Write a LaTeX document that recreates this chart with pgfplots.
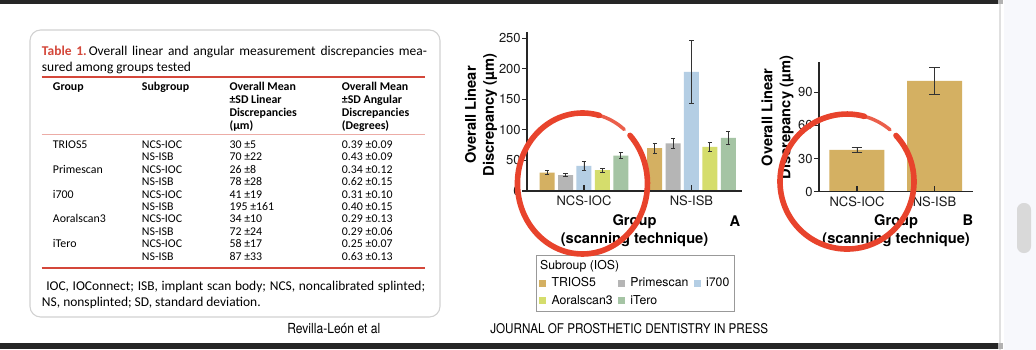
\documentclass[border=0pt]{standalone}
\usepackage{pgfplots}
\pgfplotsset{compat=1.18}
\usepackage{graphicx}
\usepackage{fontspec}
\setmainfont{TeX Gyre Heros}
\newfontfamily\hel{TeX Gyre Heros}
\newfontfamily\carl{Carlito}
\definecolor{ctrios}{HTML}{D4B062}
\definecolor{cprime}{HTML}{B5B5B5}
\definecolor{ci700}{HTML}{B4CEE4}
\definecolor{caoral}{HTML}{D5DD6C}
\definecolor{citero}{HTML}{A5C4A4}
\definecolor{tred}{HTML}{D4473A}
\definecolor{circred}{HTML}{E8432C}
\definecolor{panel}{HTML}{F7F8FC}
\newcommand\tbody{\carl\fontsize{8.9}{10}\selectfont}
\newcommand\ttitle{\carl\fontsize{10.1}{11}\selectfont}
\pgfplotsset{sqleg/.style={legend image code/.code={\fill[##1,draw=none] (0pt,-2.5pt) rectangle (5.25pt,2.5pt);}}}
\begin{document}
\begin{tikzpicture}[x=0.75pt,y=-0.75pt]
\path[use as bounding box,fill=white] (0,0) rectangle (1036,350);
% page frame
\fill[panel] (1004,0) rectangle (1036,350);
\draw[black!12,line width=1.2pt] (1000,0)--(1000,350);
\fill[black!85] (0,0) rectangle (998,3.5);
\fill[black!30] (998,0) rectangle (1003,3.5);
\fill[black!85] (0,342.5) rectangle (998,348.5);
\fill[black!30] (998,342.5) rectangle (1003,348.5);
\fill[black!15,rounded corners=5pt] (1017,203) rectangle (1031,253);
% table box
\draw[black!18,line width=0.8pt,rounded corners=8pt] (30,30) rectangle (440,317);
\node[anchor=base west,inner sep=0] at (41.7,55) {\ttitle\makebox[288.8pt][s]{\textcolor{tred}{\bfseries Table 1.}\hspace{1.5pt}Overall linear and angular measurement discrepancies mea-}};
\node[anchor=base west,inner sep=0] at (41.7,71) {\ttitle sured among groups tested};
\draw[tred,line width=1.4pt] (41.7,76.7)--(425,76.7);
\node[anchor=base west,inner sep=0] at (52.7,90.3) {\tbody\bfseries Group};
\node[anchor=base west,inner sep=0] at (141.7,90.3) {\tbody\bfseries Subgroup};
\foreach \t [count=\i from 0] in {Overall Mean,{\textpm}SD Linear,Discrepancies,(µm)}
  \node[anchor=base west,inner sep=0] at (229.3,90.3+13.1*\i) {\tbody\bfseries \t};
\foreach \t [count=\i from 0] in {Overall Mean,{\textpm}SD Angular,Discrepancies,(Degrees)}
  \node[anchor=base west,inner sep=0] at (341.7,90.3+13.1*\i) {\tbody\bfseries \t};
\draw[tred!45,line width=0.7pt] (41.7,134)--(425,134);
\foreach \g/\s/\l/\a [count=\i from 0] in {
  TRIOS5/NCS-IOC/30 {\textpm}5/0.39 {\textpm}0.09,
  /NS-ISB/70 {\textpm}22/0.43 {\textpm}0.09,
  Primescan/NCS-IOC/26 {\textpm}8/0.34 {\textpm}0.12,
  /NS-ISB/78 {\textpm}28/0.62 {\textpm}0.15,
  i700/NCS-IOC/41 {\textpm}19/0.31 {\textpm}0.10,
  /NS-ISB/195 {\textpm}161/0.40 {\textpm}0.15,
  Aoralscan3/NCS-IOC/34 {\textpm}10/0.29 {\textpm}0.13,
  /NS-ISB/72 {\textpm}24/0.29 {\textpm}0.06,
  iTero/NCS-IOC/58 {\textpm}17/0.25 {\textpm}0.07,
  /NS-ISB/87 {\textpm}33/0.63 {\textpm}0.13}{
  \node[anchor=base west,inner sep=0] at (52.7,148.3+12.43*\i) {\tbody \g};
  \node[anchor=base west,inner sep=0] at (141.7,148.3+12.43*\i) {\tbody \s};
  \node[anchor=base west,inner sep=0] at (229.3,148.3+12.43*\i) {\tbody \l};
  \node[anchor=base west,inner sep=0] at (341.7,148.3+12.43*\i) {\tbody \a};
}
\draw[tred,line width=1.4pt] (41.7,268.3)--(425,268.3);
\node[anchor=base west,inner sep=0] at (46,290) {\ttitle\makebox[284.2pt][s]{IOC, IOConnect; ISB, implant scan body; NCS, noncalibrated splinted;}};
\node[anchor=base west,inner sep=0] at (41.7,306.5) {\ttitle NS, nonsplinted; SD, standard deviation.};
% footer
\node[anchor=base west,inner sep=0] at (287,333) {\resizebox{69.75pt}{7.6pt}{\hel Revilla-León et al}};
\node[anchor=base west,inner sep=0] at (490,333) {\resizebox{208.5pt}{7.5pt}{\hel JOURNAL OF PROSTHETIC DENTISTRY IN PRESS}};
% chart A
\coordinate (A0) at (527,191);
\begin{axis}[at={(A0)},anchor=south west,scale only axis,
  width=161.25pt,height=119.25pt,
  xmin=-0.53,xmax=1.47,ymin=0,ymax=260,enlargelimits=false,
  axis lines=left,axis line style={-,black!85,line width=0.8pt},axis on top,
  ybar=2.55pt,bar width=11.25pt,
  xtick={0,1},xticklabels={NCS-IOC,NS-ISB},ytick={0,50,...,250},
  tick align=inside,major tick length=4.5pt,ytick style={xshift=-3.5pt},
  tick style={black!85,line width=0.8pt},
  /pgf/number format/assume math mode=true,
  tick label style={font=\hel\fontsize{9.75}{11}\selectfont,text=black!90},
  yticklabel style={xshift=-1.2pt},
  ylabel={Overall Linear\\Discrepancy (µm)},
  ylabel style={at={(axis description cs:-0.214,0.478)},anchor=center,align=center,font=\hel\bfseries\fontsize{11}{13.5}\selectfont},
  xlabel={Group\\(scanning technique)},
  xlabel style={at={(axis description cs:0.5,-0.2516)},anchor=center,align=center,font=\hel\bfseries\fontsize{11}{13.5}\selectfont},
  error bars/y dir=both,error bars/y explicit,
  error bars/error bar style={black!80,line width=0.6pt},
  error bars/error mark options={rotate=90,black!80,mark size=1.6pt,line width=0.6pt},
  legend columns=3,legend cell align=left,
  legend style={at={(axis description cs:0.0419,-0.4025)},anchor=north west,
    draw=black!40,line width=0.6pt,font=\hel\fontsize{9.2}{11}\selectfont,
    inner sep=2pt,row sep=1pt,
    nodes={inner sep=1.5pt,text height=7pt,text depth=2pt},
    /tikz/every odd column/.append style={column sep=2.6pt},
    /tikz/every even column/.append style={column sep=2.5pt}},
]
\addlegendimage{empty legend}\addlegendentry{\makebox[0pt][l]{\hspace*{-8.6pt}Subroup (IOS)}}
\addlegendimage{empty legend}\addlegendentry{}
\addlegendimage{empty legend}\addlegendentry{}
\addplot[fill=ctrios,draw=none,sqleg] coordinates {(0,30) +- (0,3) (1,70) +- (0,8)};
\addlegendentry{TRIOS5}
\addplot[fill=cprime,draw=none,sqleg] coordinates {(0,26) +- (0,2.5) (1,78) +- (0,8)};
\addlegendentry{Primescan}
\addplot[fill=ci700,draw=none,sqleg] coordinates {(0,41) +- (0,7) (1,195) +- (0,51)};
\addlegendentry{i700}
\addplot[fill=caoral,draw=none,sqleg] coordinates {(0,34) +- (0,3.2) (1,72) +- (0,7.6)};
\addlegendentry{Aoralscan3}
\addplot[fill=citero,draw=none,sqleg] coordinates {(0,58) +- (0,5.4) (1,87) +- (0,11)};
\addlegendentry{iTero}
\end{axis}
% chart B
\coordinate (B0) at (819,191.7);
\begin{axis}[at={(B0)},anchor=south west,scale only axis,
  width=115.7pt,height=97.5pt,
  xmin=-0.49,xmax=1.5,ymin=0,ymax=117.7,enlargelimits=false,
  axis lines=left,axis line style={-,black!85,line width=0.8pt},axis on top,
  ybar,bar width=41.25pt,
  xtick={0,1},xticklabels={NCS-IOC,NS-ISB},ytick={0,30,60,90},
  tick align=inside,major tick length=4.5pt,ytick style={xshift=-3.5pt},
  tick style={black!85,line width=0.8pt},
  /pgf/number format/assume math mode=true,
  tick label style={font=\hel\fontsize{9.75}{11}\selectfont,text=black!90},
  yticklabel style={xshift=-1.2pt},
  ylabel={Overall Linear\\Discrepancy (µm)},
  ylabel style={at={(axis description cs:-0.269,0.571)},anchor=center,align=center,font=\hel\bfseries\fontsize{11}{13.5}\selectfont},
  xlabel={Group\\(scanning technique)},
  xlabel style={at={(axis description cs:0.5,-0.302)},anchor=center,align=center,font=\hel\bfseries\fontsize{11}{13.5}\selectfont},
  error bars/y dir=both,error bars/y explicit,
  error bars/error bar style={black!80,line width=0.6pt},
  error bars/error mark options={rotate=90,black!80,mark size=4pt,line width=0.6pt},
]
\addplot[fill=ctrios,draw=none] coordinates {(0,37.8) +- (0,2.6) (1,100.4) +- (0,12.3)};
\end{axis}
\node[font=\hel\bfseries\fontsize{11}{13}\selectfont,inner sep=0] at (735,221) {A};
\node[font=\hel\bfseries\fontsize{11}{13}\selectfont,inner sep=0] at (968,220) {B};
% red circles (brush strokes)
\draw[circred,line width=4.2pt,line cap=round] (630.0,135.4) arc[start angle=-43,end angle=285,x radius=65,y radius=70.5];
\draw[circred,line width=2.6pt,line cap=round,opacity=0.85] (599.3,115.4) arc[start angle=285,end angle=310,x radius=65,y radius=70.5];
\draw[circred,line width=4.2pt,line cap=round] (896.0,135.5) arc[start angle=-43,end angle=285,x radius=67,y radius=67.5];
\draw[circred,line width=2.6pt,line cap=round,opacity=0.85] (864.3,116.3) arc[start angle=285,end angle=310,x radius=67,y radius=67.5];
\end{tikzpicture}
\end{document}
